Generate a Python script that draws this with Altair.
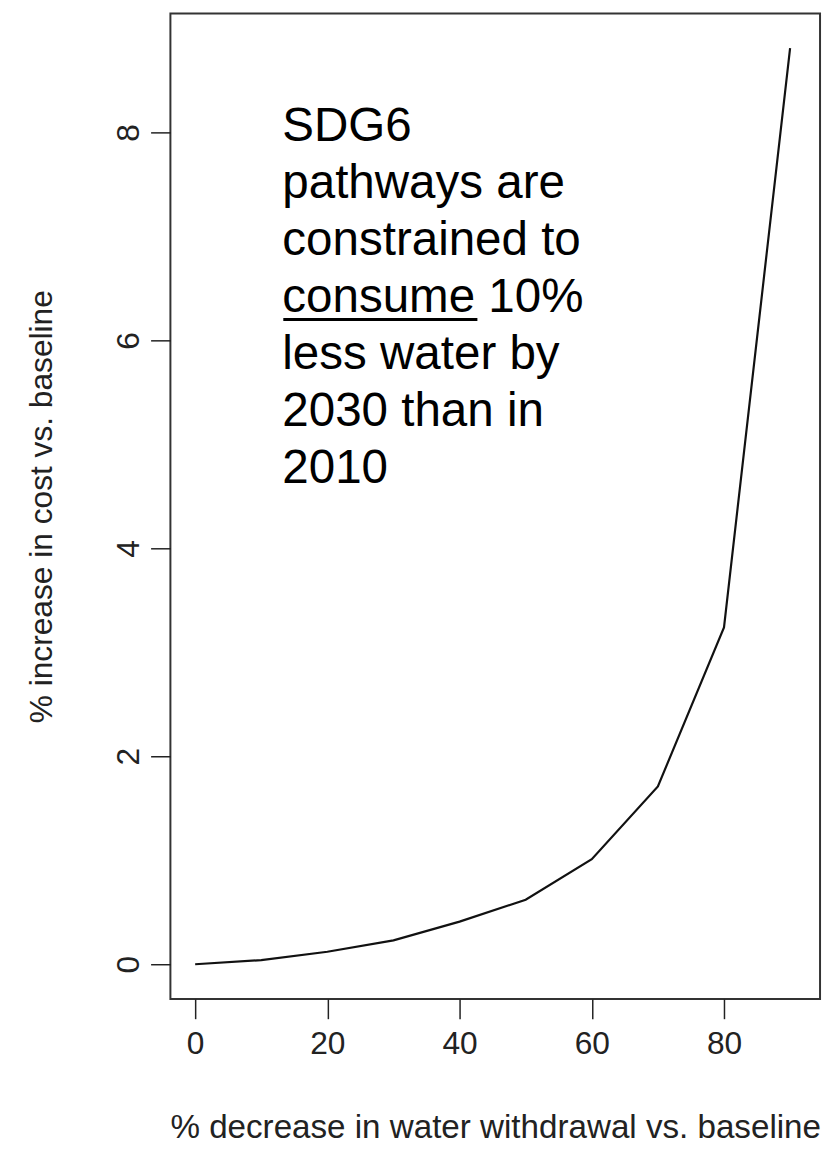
import altair as alt
import pandas as pd

# Data
withdrawal_decrease = [0, 10, 20, 30, 40, 50, 60, 70, 80, 90]
cost_increase = [0.0, 0.04, 0.12, 0.23, 0.41, 0.62, 1.01, 1.71, 3.24, 8.81]
x_ticks = [0, 20, 40, 60, 80]
y_ticks = [0, 2, 4, 6, 8]
note_lines = ["SDG6", "pathways are", "constrained to", "consume 10%",
              "less water by", "2030 than in", "2010"]

df = pd.DataFrame({"x": withdrawal_decrease, "y": cost_increase})

AX_FONT = "Liberation Sans, Arial, sans-serif"
TXT_FONT = "Liberation Sans, Arial, sans-serif"
AX_SIZE = 32

x_enc = alt.X("x:Q",
              scale=alt.Scale(domain=[-3.745, 94.53], nice=False, zero=False),
              axis=alt.Axis(values=x_ticks, title="% decrease in water withdrawal vs. baseline",
                            grid=False, domain=False, tickColor="#222", tickSize=20,
                            tickWidth=1.5, labelFontSize=AX_SIZE, labelPadding=10,
                            labelColor="#222", labelFont=AX_FONT,
                            titleFont=AX_FONT, titleFontSize=33.5, titleFontWeight="normal",
                            titleColor="#222", titlePadding=53))
y_enc = alt.Y("y:Q",
              scale=alt.Scale(domain=[-0.333, 9.143], nice=False, zero=False),
              axis=alt.Axis(values=y_ticks, title="% increase in cost vs. baseline",
                            grid=False, domain=False, tickColor="#222", tickSize=20,
                            tickWidth=1.5, labelFontSize=AX_SIZE, labelPadding=5,
                            labelAngle=270, labelAlign="center", labelBaseline="bottom",
                            labelColor="#222", labelFont=AX_FONT,
                            titleFont=AX_FONT, titleFontSize=AX_SIZE, titleFontWeight="normal",
                            titleColor="#222", titlePadding=55))

line = alt.Chart(df).mark_line(color="#111", strokeWidth=2.2).encode(x=x_enc, y=y_enc)

note = alt.Chart(pd.DataFrame({"t": ["\n".join(note_lines)]})).mark_text(
    align="left", baseline="alphabetic", fontSize=48, lineHeight=57.5,
    font=TXT_FONT, color="black", lineBreak="\n"
).encode(text="t:N", x=alt.value(113), y=alt.value(129))

underline = alt.Chart(pd.DataFrame({"a": [0]})).mark_rule(color="black", strokeWidth=3).encode(
    x=alt.value(114), x2=alt.value(310), y=alt.value(309)
)

chart = alt.layer(line, note, underline).properties(
    width=656, height=995,
    background="white",
    autosize=alt.AutoSizeParams(type="none"),
    padding={"left": 164, "top": 0, "right": 4, "bottom": 148},
).configure_view(stroke="#333", strokeWidth=2, fill="white")

chart.save("out.html", embed_options={"renderer": "svg", "actions": False})
